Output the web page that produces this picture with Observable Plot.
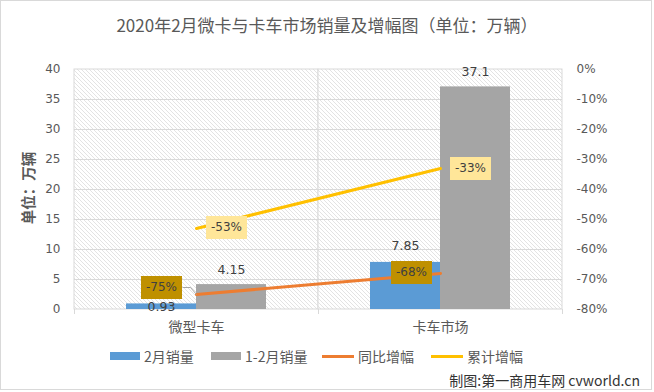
<!DOCTYPE html>
<html>
<head>
<meta charset="utf-8">
<script src="https://cdn.jsdelivr.net/npm/d3@7"></script>
<script src="https://cdn.jsdelivr.net/npm/@observablehq/plot@0.6"></script>
<style>
  html, body { margin: 0; padding: 0; background: #fff; }
  #wrap { position: relative; width: 654px; height: 392px; overflow: hidden; background: #fff;
          font-family: "Noto Sans CJK SC", "Noto Sans", sans-serif; }
  #border { position: absolute; left: 0; top: 0; width: 650px; height: 388px; border: 1px solid #d9d9d9; }
  #title { position: absolute; left: 0; top: 13px; width: 654px; text-align: center; font-size: 17px;
           line-height: 24px; color: #595959; white-space: nowrap; }
  #ytitle { position: absolute; left: 28px; top: 188px; transform: translate(-50%, -50%) rotate(-90deg);
            font-size: 14.5px; font-weight: bold; color: #595959; white-space: nowrap; line-height: 18px; }
  #legend { position: absolute; top: 346px; left: 0; width: 654px; height: 20px; }
  .lg-item { position: absolute; top: 0; height: 20px; display: flex; align-items: center;
             font-size: 14px; color: #595959; white-space: nowrap; }
  .lg-swatch { display: inline-block; margin-right: 4px; }
  #caption { position: absolute; right: 14px; top: 370px; font-size: 14px; line-height: 20px; color: #333;
             white-space: nowrap; }
  svg.chart { position: absolute; left: 0; top: 0; }
  svg.chart [aria-label^="x-axis"] text { font-family: "Noto Sans CJK SC", sans-serif; font-size: 14px; fill: #595959; }
</style>
</head>
<body>
<div id="wrap">
  <div id="border"></div>
  <div id="title"></div>
  <div id="ytitle"></div>
  <div id="legend"></div>
  <div id="caption"></div>
</div>
<script>
// ---- data ----
const titleText = "2020年2月微卡与卡车市场销量及增幅图（单位：万辆）";
const yTitleText = "单位：万辆";
const captionText = "制图:第一商用车网 cvworld.cn";
const categories = ["微型卡车", "卡车市场"];
const febSales = [0.93, 7.85];          // 2月销量
const janFebSales = [4.15, 37.1];       // 1-2月销量
const yoyGrowth = [-75, -68];           // 同比增幅 (%)
const cumGrowth = [-53, -33];           // 累计增幅 (%)
const leftTicks = [0, 5, 10, 15, 20, 25, 30, 35, 40];
const rightTicks = [0, -10, -20, -30, -40, -50, -60, -70, -80];
const seriesNames = ["2月销量", "1-2月销量", "同比增幅", "累计增幅"];

// ---- styles ----
const colors = ["#5B9BD5", "#A5A5A5", "#ED7D31", "#FFC000"];
const boxColors = {yoy: "#BF9000", cum: "#FFE699"};
const numFont = "DejaVu Sans";

const rows = categories.map((c, i) => ({
  cat: c, feb: febSales[i], ytd: janFebSales[i], yoy: yoyGrowth[i], cum: cumGrowth[i], idx: i
}));

// secondary axis: percent mapped onto the primary y domain
const pctY = d3.scaleLinear([rightTicks[rightTicks.length - 1], rightTicks[0]], [leftTicks[0], leftTicks[leftTicks.length - 1]]);

// rectangular label box symbol
const boxSymbol = (w, h) => ({ draw(ctx) { ctx.rect(-w / 2, -h / 2, w, h); } });
const leaderSymbol = { draw(ctx) { ctx.moveTo(21, 0); ctx.lineTo(29, 0); ctx.lineTo(35, 7); } };

function pctLabel(key, i, dx, dy) {
  const y = d => pctY(d[key]);
  const filter = d => d.idx === i;
  return [
    Plot.dot(rows, {filter, x: "cat", y, symbol: boxSymbol(41, 23), r: 5, fill: boxColors[key], stroke: "none", dx, dy}),
    Plot.text(rows, {filter, x: "cat", y, text: d => d[key] + "%", dx, dy, fill: "#404040",
                     fontFamily: numFont, fontSize: 12})
  ];
}
function valLabel(key, i, dx, dy) {
  return Plot.text(rows, {filter: d => d.idx === i, x: "cat", y: key, text: d => String(d[key]), dx, dy,
                          fill: "#404040", fontFamily: numFont, fontSize: 12.5});
}

const halfBand = 122;

const chart = Plot.plot({
  width: 654,
  height: 392,
  marginTop: 69,
  marginBottom: 83,
  marginLeft: 74,
  marginRight: 92,
  className: "chart",
  style: {fontFamily: numFont, fontSize: "12px", color: "#595959", background: "transparent", overflow: "visible"},
  x: {domain: categories, padding: 0, tickSize: 0, tickPadding: 13, label: null},
  y: {domain: [leftTicks[0], leftTicks[leftTicks.length - 1]], ticks: leftTicks, tickSize: 0, tickPadding: 14, label: null},
  marks: [
    // hatched plot area with category separators
    Plot.barY(categories, {x: d => d, y1: leftTicks[0], y2: leftTicks[leftTicks.length - 1], fill: "url(#hatch)", stroke: "#d9d9d9", strokeWidth: 1}),
    Plot.ruleY(leftTicks.slice(1, -1), {stroke: "#d9d9d9", strokeWidth: 1}),
    // category tick marks below axis
    Plot.ruleX(categories, {x: d => d, dx: -halfBand, y1: 0, y2: 0, insetBottom: -5, stroke: "#d9d9d9"}),
    Plot.ruleX(categories.slice(-1), {x: d => d, dx: halfBand, y1: 0, y2: 0, insetBottom: -5, stroke: "#d9d9d9"}),
    // bars
    Plot.barY(rows, {x: "cat", y: "feb", fill: colors[0], insetLeft: 52, insetRight: 122}),
    Plot.barY(rows, {x: "cat", y: "ytd", fill: colors[1], insetLeft: 122, insetRight: 52}),
    // lines
    Plot.lineY(rows, {x: "cat", y: d => pctY(d.yoy), stroke: colors[2], strokeWidth: 3}),
    Plot.lineY(rows, {x: "cat", y: d => pctY(d.cum), stroke: colors[3], strokeWidth: 3}),
    // leader for first yoy label
    Plot.dot(rows, {filter: d => d.idx === 0, x: "cat", y: d => pctY(d.yoy), symbol: leaderSymbol, r: 5,
                    fill: "none", stroke: "#a6a6a6", strokeWidth: 1, dx: -35, dy: -7}),
    ...pctLabel("yoy", 0, -35, -7),
    ...pctLabel("cum", 0, 30, -1),
    ...pctLabel("yoy", 1, -29, -1),
    ...pctLabel("cum", 1, 30, 0),
    // bar value labels
    valLabel("feb", 0, -35, 3),
    valLabel("feb", 1, -35, -16),
    valLabel("ytd", 0, 35, -15),
    valLabel("ytd", 1, 35, -15),
    // right axis
    Plot.text(rightTicks, {y: d => pctY(d), text: d => d + "%", frameAnchor: "right", dx: 14, textAnchor: "start",
                           fill: "#595959", fontFamily: numFont, fontSize: 12})
  ]
});

// hatch pattern definition
const defs = document.createElementNS("http://www.w3.org/2000/svg", "defs");
defs.innerHTML = '<pattern id="hatch" patternUnits="userSpaceOnUse" width="4" height="4">' +
  '<rect width="4" height="4" fill="#ffffff"/>' +
  '<path d="M-1,-1 L5,5 M3,-1 L5,1 M-1,3 L1,5" stroke="#dcdcdc" stroke-width="0.8"/></pattern>';
chart.insertBefore(defs, chart.firstChild);

const wrap = document.getElementById("wrap");
wrap.insertBefore(chart, document.getElementById("title"));

document.getElementById("title").textContent = titleText;
document.getElementById("ytitle").textContent = yTitleText;
document.getElementById("caption").textContent = captionText;

// legend
const legendLefts = [110, 211, 322, 431];
const legend = document.getElementById("legend");
seriesNames.forEach((name, i) => {
  const item = document.createElement("div");
  item.className = "lg-item";
  item.style.left = legendLefts[i] + "px";
  const sw = document.createElement("span");
  sw.className = "lg-swatch";
  sw.style.background = colors[i];
  sw.style.width = (i < 2 ? 30 : 32) + "px";
  sw.style.height = (i < 2 ? 8 : 3) + "px";
  item.appendChild(sw);
  const t = document.createElement("span");
  t.textContent = name;
  item.appendChild(t);
  legend.appendChild(item);
});
</script>
</body>
</html>
